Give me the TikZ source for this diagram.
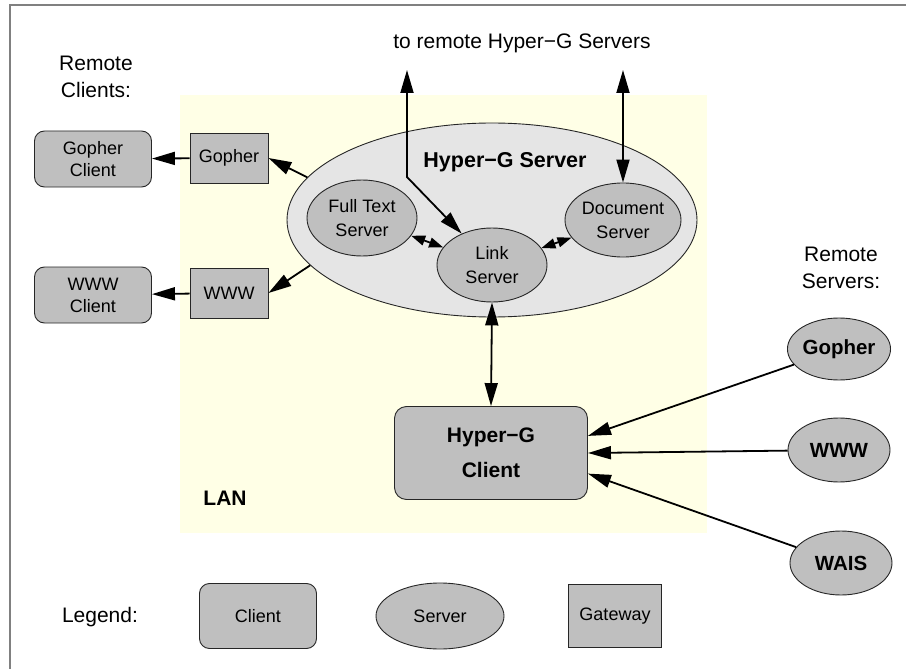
\documentclass[tikz,border=0pt]{standalone}
\usepackage{fontspec}
\setmainfont{Liberation Sans}
\usetikzlibrary{shapes.geometric,arrows.meta}
\definecolor{lanc}{RGB}{255,255,230}
\definecolor{hgsc}{RGB}{229,229,229}
\definecolor{nodec}{RGB}{191,191,191}
\definecolor{framec}{RGB}{128,128,128}
\tikzset{
  gw/.style={draw=black!85, fill=nodec, line width=0.9pt, rectangle, inner sep=0pt, align=center, font=\fontsize{18}{22}\selectfont},
  cl/.style={draw=black!85, fill=nodec, line width=0.9pt, rectangle, rounded corners=10pt, inner sep=0pt, align=center, font=\fontsize{18}{22}\selectfont},
  sv/.style={draw=black!85, fill=nodec, line width=0.9pt, ellipse, inner sep=0pt, align=center, font=\fontsize{18}{24}\selectfont},
  rsv/.style={sv, font=\bfseries\fontsize{20.5}{24}\selectfont},
  lbl/.style={align=center, inner sep=0pt, font=\fontsize{21}{27}\selectfont},
  arr/.style={line width=1.8pt, -{Triangle[length=23pt,width=13pt]}},
  darr/.style={line width=1.8pt, {Triangle[length=23pt,width=13pt]}-{Triangle[length=23pt,width=13pt]}},
  sarr/.style={line width=1.8pt, {Triangle[length=14pt,width=10pt]}-{Triangle[length=14pt,width=10pt]}}
}
\begin{document}
\begin{tikzpicture}[x=1pt,y=-1pt]
\useasboundingbox (0,0) rectangle (906,669);
% frame
\draw[framec, line width=2pt] (10,669) -- (10,5.5) -- (906,5.5);
% LAN area
\fill[lanc] (180,95) rectangle (707,533);
\node[lbl, font=\bfseries\fontsize{21}{25}\selectfont] (lan) at (225,498) {LAN};
% Hyper-G server
\node[draw=black!85, fill=hgsc, line width=0.9pt, ellipse, minimum width=410pt, minimum height=194pt, inner sep=0pt] (hgs) at (492,220) {};
\node[lbl, font=\bfseries\fontsize{21.5}{25}\selectfont] (hgslbl) at (505,162) {Hyper−G Server};
\node[sv, minimum width=110pt, minimum height=76pt] (fts) at (362,218) {Full Text\\Server};
\node[sv, minimum width=110pt, minimum height=74pt] (link) at (492,265) {Link\\Server};
\node[sv, minimum width=110pt, minimum height=74pt] (doc) at (623,220) {Document\\Server};
% top text
\node[lbl] (remhg) at (522,43) {to remote Hyper−G Servers};
\coordinate (topL) at (407,70);
\coordinate (bendL) at (407,177);
\coordinate (topR) at (623,70);
% gateways and remote clients
\node[gw, minimum width=78pt, minimum height=50pt] (gw1) at (229,158) {Gopher};
\node[gw, minimum width=78pt, minimum height=50pt] (gw2) at (229,293) {WWW};
\node[cl, minimum width=117pt, minimum height=56pt] (gc) at (93,159) {Gopher\\Client};
\node[cl, minimum width=117pt, minimum height=56pt] (wc) at (93,295) {WWW\\Client};
\node[lbl] (remcl) at (96,77) {Remote\\Clients:};
% Hyper-G client
\node[cl, minimum width=193pt, minimum height=93pt, rounded corners=12pt, font=\bfseries\fontsize{21}{35}\selectfont] (client) at (491,453) {Hyper−G\\Client};
% remote servers
\node[lbl] (remsv) at (841,268) {Remote\\Servers:};
\node[rsv, minimum width=102pt, minimum height=62pt] (rs1) at (839,349) {Gopher};
\node[rsv, minimum width=102pt, minimum height=64pt] (rs2) at (839,450) {WWW};
\node[rsv, minimum width=102pt, minimum height=64pt] (rs3) at (841,563) {WAIS};
% connectors
\draw[darr] (topL) -- (bendL) -- (link);
\draw[darr] (topR) -- (doc.north);
\draw[sarr] (fts) -- (link);
\draw[sarr] (doc) -- (link);
\draw[darr] (link.south) -- (client.north);
\draw[arr] (hgs.167) -- (gw1.east);
\draw[arr] (hgs.194) -- (gw2.east);
\draw[arr] (gw1) -- (gc);
\draw[arr] (gw2) -- (wc);
\draw[arr] (rs1) -- (client.10);
\draw[arr] (rs2) -- (client.east);
\draw[arr] (rs3) -- (client.-12);
% legend
\node[lbl] (leg) at (100,617) {Legend:};
\node[cl, minimum width=117pt, minimum height=65pt] (lcl) at (258,616) {Client};
\node[sv, minimum width=128pt, minimum height=66pt] (lsv) at (440,616) {Server};
\node[gw, minimum width=93pt, minimum height=63pt] (lgw) at (615,616) {Gateway};
\end{tikzpicture}
\end{document}
